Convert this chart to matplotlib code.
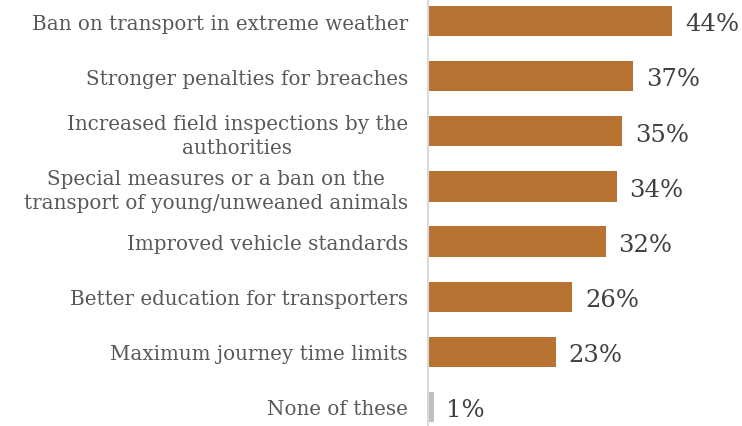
import matplotlib
matplotlib.use("Agg")
import matplotlib.pyplot as plt

categories = [
    "Ban on transport in extreme weather",
    "Stronger penalties for breaches",
    "Increased field inspections by the\nauthorities",
    "Special measures or a ban on the\ntransport of young/unweaned animals",
    "Improved vehicle standards",
    "Better education for transporters",
    "Maximum journey time limits",
    "None of these",
]
values = [44, 37, 35, 34, 32, 26, 23, 1]
bar_colors = ["#B87333"] * 7 + ["#BFBFBF"]

plt.rcParams["font.family"] = ["DejaVu Serif"]

fig = plt.figure(figsize=(7.42, 4.27), dpi=100)
ax = fig.add_axes([428 / 742, 0, (742 - 428) / 742, 1])

y = list(range(len(categories)))
ax.barh(y, values, height=0.55, color=bar_colors)
ax.set_xlim(0, 56.6)
ax.set_ylim(7.345, -0.399)

for yi, v in zip(y, values):
    ax.text(v + 2.3, yi + 0.05, f"{v}%", va="center", ha="left", fontsize=17.5, color="#404040")

ax.set_yticks(y)
ax.set_yticklabels(categories, fontsize=14.3, color="#595959", multialignment="center",
                   linespacing=1.3)
ax.tick_params(axis="y", length=0, pad=14.4)
ax.set_xticks([])
for s in ["top", "right", "bottom"]:
    ax.spines[s].set_visible(False)
ax.spines["left"].set_color("#D9D9D9")
ax.spines["left"].set_linewidth(1.5)

fig.savefig("out.png", dpi=100)
